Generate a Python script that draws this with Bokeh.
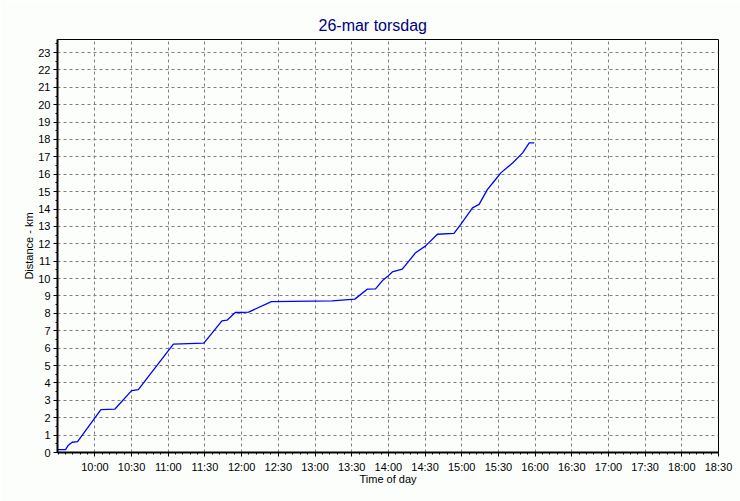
from bokeh.plotting import figure
from bokeh.models import FixedTicker, Range1d
from bokeh.embed import file_html
from bokeh.resources import INLINE

# ---- data ----
title_text = "26-mar torsdag"
x_label = "Time of day"
y_label = "Distance - km"

times = ["09:29:24", "09:36:00", "09:38:00", "09:41:24", "09:45:48", "10:04:54",
         "10:16:24", "10:30:00", "10:35:30", "11:04:12", "11:28:48", "11:29:36",
         "11:43:54", "11:48:00", "11:54:48", "12:05:42", "12:24:18", "13:14:00",
         "13:32:36", "13:42:42", "13:49:30", "13:55:00", "13:59:00", "14:03:12",
         "14:11:24", "14:22:18", "14:30:30", "14:40:06", "14:53:42", "14:59:12",
         "15:08:48", "15:14:12", "15:21:06", "15:26:30", "15:32:00", "15:41:36",
         "15:49:48", "15:55:12", "15:59:18"]
distance_km = [0.17, 0.17, 0.40, 0.59, 0.63, 2.47,
               2.50, 3.56, 3.61, 6.23, 6.29, 6.33,
               7.57, 7.61, 8.05, 8.07, 8.68, 8.72,
               8.82, 9.39, 9.41, 9.87, 10.10, 10.38,
               10.54, 11.49, 11.88, 12.55, 12.60, 13.12,
               14.07, 14.27, 15.13, 15.60, 16.08, 16.65,
               17.23, 17.80, 17.80]

x_tick_labels = ["10:00", "10:30", "11:00", "11:30", "12:00", "12:30", "13:00",
                 "13:30", "14:00", "14:30", "15:00", "15:30", "16:00", "16:30",
                 "17:00", "17:30", "18:00", "18:30"]
y_ticks = list(range(0, 24))

x_start = "09:29:24"
x_end = "18:30:00"
y_max = 23.75


def to_min(s):
    parts = [float(v) for v in s.split(":")]
    while len(parts) < 3:
        parts.append(0.0)
    return parts[0] * 60 + parts[1] + parts[2] / 60.0


xs = [to_min(t) for t in times]
x_ticks = [to_min(t) for t in x_tick_labels]

FONT = "Liberation Sans"
BG = "#FCFEFC"

p = figure(width=740, height=501, output_backend="svg", toolbar_location=None,
           x_range=Range1d(to_min(x_start), to_min(x_end)),
           y_range=Range1d(0, y_max),
           min_border_left=57, min_border_right=22,
           min_border_top=39, min_border_bottom=49)

p.background_fill_color = BG
p.border_fill_color = BG
p.outline_line_color = "black"
p.outline_line_width = 1

# title
p.title.text = title_text
p.title.text_font = FONT
p.title.text_font_size = "16px"
p.title.text_font_style = "normal"
p.title.text_color = "#000080"
p.title.align = "left"
p.title.offset = 261
p.title.standoff = 12

# axes
xa = p.xaxis[0]
ya = p.yaxis[0]
xa.ticker = FixedTicker(ticks=x_ticks,
                        minor_ticks=[x_ticks[0] - 30 + 6 * i for i in range(0, 91)])
xa.major_label_overrides = {t: lab for t, lab in zip(x_ticks, x_tick_labels)}
ya.ticker = FixedTicker(ticks=y_ticks, minor_ticks=[i * 0.5 for i in range(0, 48)])

for ax in (xa, ya):
    ax.axis_line_color = "black"
    ax.axis_line_width = 2
    ax.major_tick_line_color = "black"
    ax.minor_tick_line_color = "black"
    ax.major_tick_in = 0
    ax.major_tick_out = 4
    ax.minor_tick_in = 0
    ax.minor_tick_out = 2
    ax.major_label_text_font = FONT
    ax.major_label_text_font_size = "11px"
    ax.major_label_text_color = "black"
    ax.axis_label_text_font = FONT
    ax.axis_label_text_font_size = "11px"
    ax.axis_label_text_font_style = "normal"
    ax.axis_label_text_color = "black"

xa.axis_label = x_label
ya.axis_label = y_label
xa.major_label_standoff = 4
xa.axis_label_standoff = -3
ya.major_label_standoff = 3
ya.axis_label_standoff = 0

# grid
for g in (p.xgrid[0], p.ygrid[0]):
    g.grid_line_color = "#808080"
    g.grid_line_dash = "3 3"
    g.grid_line_width = 1
p.xgrid[0].ticker = xa.ticker
p.ygrid[0].ticker = ya.ticker

# data line
p.line(xs, distance_km, line_color="#0000FF", line_width=1.3)

open("out.html", "w").write(file_html(p, INLINE))
